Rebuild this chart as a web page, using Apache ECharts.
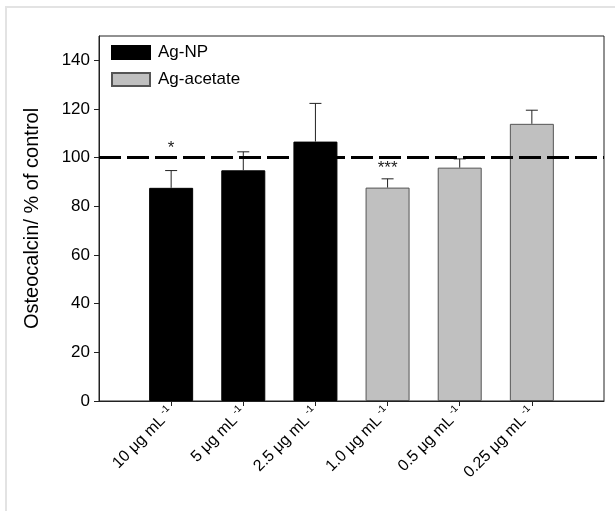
<!DOCTYPE html>
<html>
<head>
<meta charset="utf-8">
<script src="https://cdn.jsdelivr.net/npm/echarts@6/dist/echarts.min.js"></script>
<style>
  html, body { margin: 0; padding: 0; background: #fff; }
  #chart { width: 615px; height: 511px; }
</style>
</head>
<body>
<div id="chart"></div>
<script>
// Concentrations (empty slots pad the axis on both sides)
const doses = ['', '10 μg mL', '5 μg mL', '2.5 μg mL', '1.0 μg mL', '0.5 μg mL', '0.25 μg mL', ''];
// Ag-NP: mean and upper SD
const npMean = [87.6, 94.8, 106.6];
const npErr = [7.1, 7.6, 15.7];
// Ag-acetate: mean and upper SD
const acMean = [87.7, 95.9, 113.9];
const acErr = [3.6, 3.6, 5.6];
// Significance marks per concentration
const sigMarks = ['*', '', '', '***', '', ''];
// Control reference level
const controlLevel = 100;
const yTicks = [0, 20, 40, 60, 80, 100, 120, 140];

const npData = ['-', ...npMean, '-', '-', '-', '-'];
const acData = ['-', '-', '-', '-', ...acMean, '-'];
const errData = [];
npMean.forEach((m, i) => errData.push([i + 1, m, npErr[i], sigMarks[i]]));
acMean.forEach((m, i) => errData.push([i + 4, m, acErr[i], sigMarks[i + 3]]));

// extra lift of each significance mark above its error bar
const sigLift = { '*': 22, '***': 11 };

const chart = echarts.init(document.getElementById('chart'));
const font = '"Liberation Sans", Arial, sans-serif';

chart.setOption({
  animation: false,
  backgroundColor: '#fff',
  textStyle: { fontFamily: font, color: '#000' },
  graphic: [
    { type: 'line', shape: { x1: 5, y1: 7, x2: 615, y2: 7 }, style: { stroke: '#e3e3e3', lineWidth: 2 } },
    { type: 'line', shape: { x1: 6, y1: 7, x2: 6, y2: 511 }, style: { stroke: '#e3e3e3', lineWidth: 2 } }
  ],
  grid: {
    left: 99, right: 11, top: 36, bottom: 110,
    show: true, borderColor: '#222', borderWidth: 1, backgroundColor: 'transparent'
  },
  legend: {
    orient: 'vertical',
    left: 111, top: 44,
    padding: 0,
    itemWidth: 38, itemHeight: 13, itemGap: 10,
    icon: 'rect',
    textStyle: { fontFamily: font, fontSize: 17, color: '#000', padding: [0, 0, 0, 3] },
    data: ['Ag-NP', 'Ag-acetate']
  },
  xAxis: {
    type: 'category',
    data: doses,
    boundaryGap: false,
    axisLine: { lineStyle: { color: '#222', width: 1 } },
    axisTick: { length: 5, lineStyle: { color: '#222' }, interval: (i) => i > 0 && i < doses.length - 1 },
    splitLine: { show: false },
    axisLabel: {
      interval: 0,
      rotate: 45,
      margin: 9,
      formatter: (v) => v ? '{a|' + v + '}{s|-1}' : '',
      rich: {
        a: { fontFamily: font, fontSize: 16, color: '#000', lineHeight: 19 },
        s: { fontFamily: font, fontSize: 10, color: '#000', verticalAlign: 'top', lineHeight: 19, padding: [0, 0, 8, 3] }
      }
    }
  },
  yAxis: {
    type: 'value',
    min: 0, max: 150, interval: 20,
    name: 'Osteocalcin/ % of control',
    nameLocation: 'middle',
    nameGap: 57,
    nameTextStyle: { fontFamily: font, fontSize: 20, color: '#000' },
    axisLine: { show: true, lineStyle: { color: '#222', width: 1 } },
    axisTick: { show: true, length: 5, lineStyle: { color: '#222' }, customValues: yTicks },
    axisLabel: { fontFamily: font, fontSize: 17, color: '#000', margin: 9, customValues: yTicks },
    splitLine: { show: false }
  },
  series: [
    {
      name: 'Ag-NP', type: 'bar', data: npData, barWidth: 44, barGap: '-100%',
      itemStyle: { color: '#000', borderColor: '#000', borderWidth: 1 },
      markLine: {
        silent: true, symbol: 'none', label: { show: false },
        lineStyle: { color: '#000', width: 3, type: [22, 6] },
        data: [{ yAxis: controlLevel }],
        z: 5
      }
    },
    {
      name: 'Ag-acetate', type: 'bar', data: acData, barWidth: 44, barGap: '-100%',
      itemStyle: { color: '#c0c0c0', borderColor: '#555', borderWidth: 1 }
    },
    {
      type: 'custom',
      z: 4,
      data: errData,
      renderItem: (params, api) => {
        const x = api.value(0);
        const m = api.value(1);
        const e = api.value(2);
        const mark = errData[params.dataIndex][3];
        const base = api.coord([x, m]);
        const top = api.coord([x, m + e]);
        const hw = 6;
        const children = [
          { type: 'line', shape: { x1: base[0], y1: base[1], x2: top[0], y2: top[1] }, style: { stroke: '#222', lineWidth: 1 } },
          { type: 'line', shape: { x1: top[0] - hw, y1: top[1], x2: top[0] + hw, y2: top[1] }, style: { stroke: '#222', lineWidth: 1 } }
        ];
        if (mark) {
          children.push({
            type: 'text',
            style: {
              text: mark, x: top[0], y: top[1] - (sigLift[mark] || 10),
              align: 'center', verticalAlign: 'middle',
              fontFamily: font, fontSize: 17, fill: '#222'
            }
          });
        }
        return { type: 'group', children };
      }
    }
  ]
});
</script>
</body>
</html>
